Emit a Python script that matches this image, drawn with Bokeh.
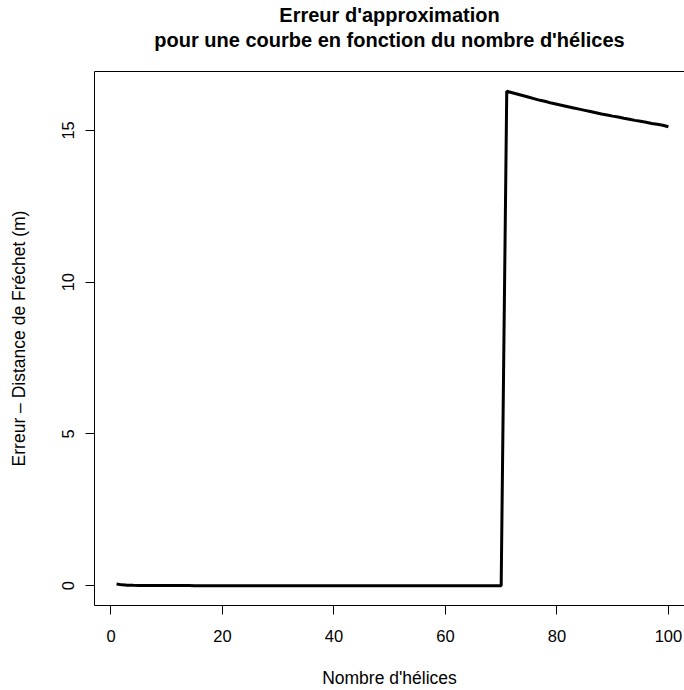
from bokeh.plotting import figure
from bokeh.models import FixedTicker, LinearAxis, Range1d, Title
from bokeh.embed import file_html
from bokeh.resources import INLINE

n_helices = list(range(1, 101))
erreur = [
    0.06, 0.03, 0.02, 0.015, 0.012, 0.010, 0.009, 0.008, 0.007, 0.006,
    0.006, 0.005, 0.005, 0.005, 0.004, 0.004, 0.004, 0.004, 0.003, 0.003,
    0.003, 0.003, 0.003, 0.003, 0.003, 0.002, 0.002, 0.002, 0.002, 0.002,
    0.002, 0.002, 0.002, 0.002, 0.002, 0.002, 0.002, 0.002, 0.002, 0.002,
    0.002, 0.002, 0.002, 0.002, 0.002, 0.002, 0.002, 0.002, 0.002, 0.002,
    0.002, 0.002, 0.002, 0.002, 0.002, 0.002, 0.002, 0.002, 0.002, 0.002,
    0.002, 0.002, 0.002, 0.002, 0.002, 0.002, 0.002, 0.002, 0.002, 0.002,
    16.29, 16.24, 16.19, 16.14, 16.09, 16.04, 15.99, 15.95, 15.90, 15.86,
    15.82, 15.78, 15.74, 15.70, 15.66, 15.62, 15.58, 15.54, 15.51, 15.47,
    15.44, 15.40, 15.37, 15.33, 15.30, 15.27, 15.23, 15.20, 15.17, 15.12,
]
x_ticks = [0, 20, 40, 60, 80, 100]
y_ticks = [0, 5, 10, 15]
title_line1 = "Erreur d'approximation"
title_line2 = "pour une courbe en fonction du nombre d'hélices"
x_label = "Nombre d'hélices"
y_label = "Erreur \u2013 Distance de Fréchet (m)"

FONT = "Liberation Sans"

p = figure(width=684, height=690, output_backend="svg", toolbar_location=None,
           title_location=None,
           x_range=Range1d(-2.96, 102.89), y_range=Range1d(-0.65, 16.94),
           min_border_left=94, min_border_right=0, min_border_top=71, min_border_bottom=85,
           x_axis_label=x_label, y_axis_label=y_label)
p.outline_line_color = None
p.grid.visible = False
p.background_fill_color = "white"
p.border_fill_color = "white"

for ax in p.xaxis + p.yaxis:
    ax.axis_line_color = "black"
    ax.axis_line_width = 1
    ax.major_tick_line_color = "black"
    ax.major_tick_out = 9
    ax.major_tick_in = 0
    ax.minor_tick_line_color = None
    ax.major_label_text_font = FONT
    ax.major_label_text_font_size = "16.5px"
    ax.major_label_text_color = "black"
    ax.axis_label_text_font = FONT
    ax.axis_label_text_font_size = "17.5px"
    ax.axis_label_text_font_style = "normal"
    ax.axis_label_text_color = "black"

p.xaxis.ticker = FixedTicker(ticks=x_ticks)
p.yaxis.ticker = FixedTicker(ticks=y_ticks)
p.xaxis.major_label_standoff = 15
p.xaxis.axis_label_standoff = 23
p.yaxis.major_label_orientation = "vertical"
p.yaxis.major_label_standoff = 11
p.yaxis.axis_label_standoff = 31

top = LinearAxis(ticker=FixedTicker(ticks=[]), major_label_text_font_size="0px",
                 major_tick_line_color=None, minor_tick_line_color=None,
                 axis_line_color="black")
p.add_layout(top, "above")

spacer = Title(text=" ", text_font_size="10px", standoff=8, text_color="white")
p.add_layout(spacer, "above")

for txt, stand in ((title_line2, 0), (title_line1, 1)):
    t = Title(text=txt, align="center", offset=4, standoff=stand,
              text_font=FONT, text_font_size="20px", text_font_style="bold",
              text_color="black")
    p.add_layout(t, "above")

p.line(n_helices, erreur, line_color="black", line_width=3)

open("out.html", "w").write(file_html(p, INLINE))
